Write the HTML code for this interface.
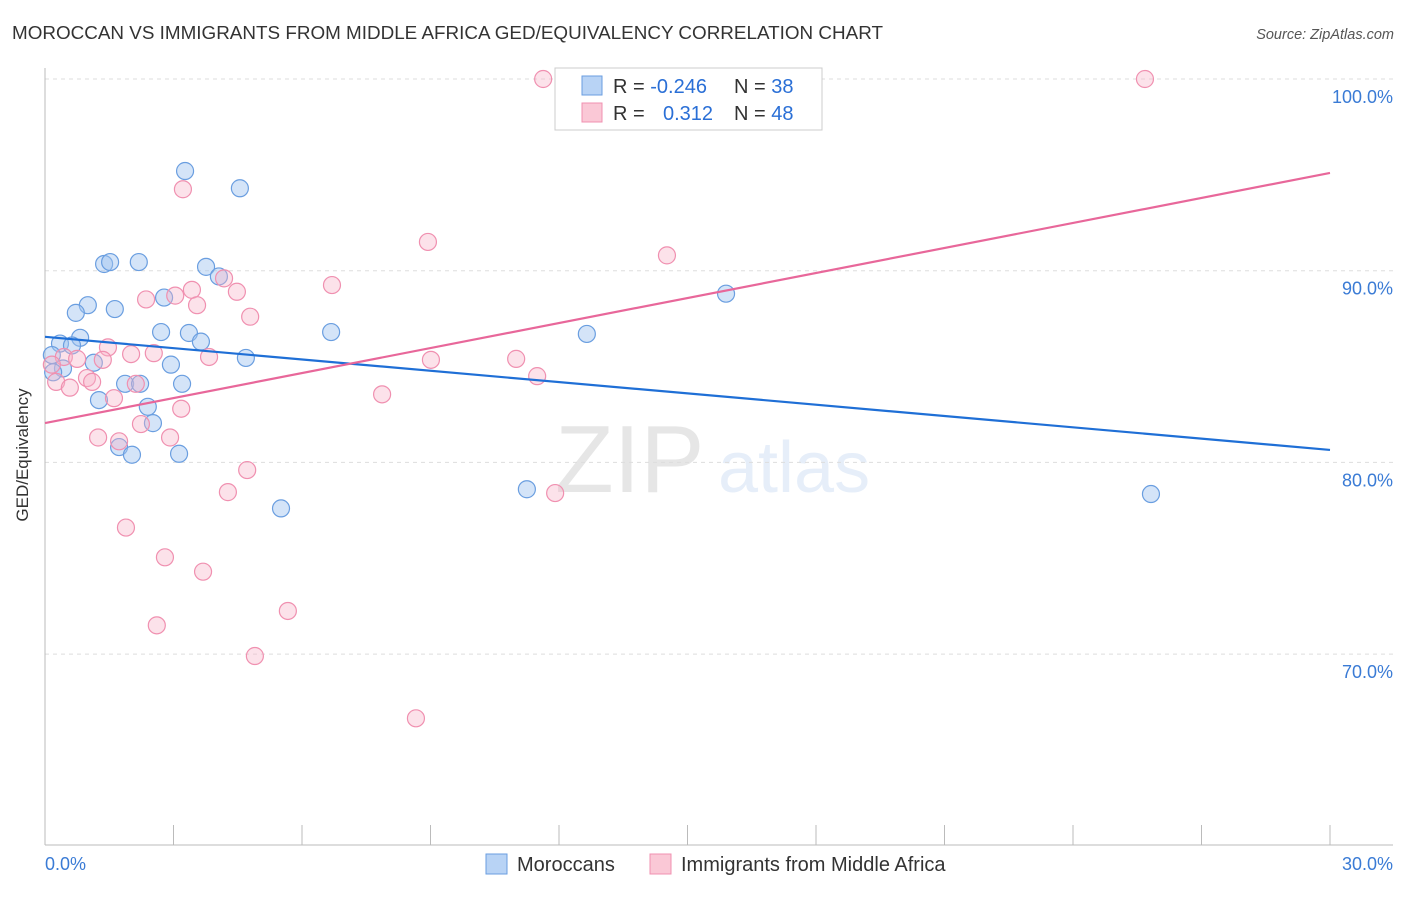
<!DOCTYPE html>
<html><head><meta charset="utf-8"><style>
body{margin:0;background:#fff;font-family:"Liberation Sans",sans-serif;}
svg text{font-family:"Liberation Sans",sans-serif;}
</style></head><body>
<svg id="chart" width="1406" height="892" xmlns="http://www.w3.org/2000/svg">
<text x="12" y="39" font-size="18" fill="#333" textLength="871" lengthAdjust="spacingAndGlyphs">MOROCCAN VS IMMIGRANTS FROM MIDDLE AFRICA GED/EQUIVALENCY CORRELATION CHART</text>
<text x="1394" y="39" font-size="14.5" fill="#555" font-style="italic" text-anchor="end">Source: ZipAtlas.com</text>
<g opacity="0.18">
<text x="555" y="492" font-size="96" font-family="Liberation Serif" fill="#777">ZIP</text>
<text x="718" y="492" font-size="72" fill="#7aa6e0">atlas</text>
</g>
<g id="grid"></g>
<g id="axes"></g>
<g id="points"></g>
<g id="trends"></g>
<text x="28" y="455" font-size="17" fill="#333" text-anchor="middle" transform="rotate(-90 28 455)">GED/Equivalency</text>
<g>
<rect x="555" y="68" width="267" height="62" fill="#fff" stroke="#ccc"/>
<rect x="582" y="76" width="20" height="19" fill="#b8d3f5" stroke="#6a9ee0"/>
<rect x="582" y="103" width="20" height="19" fill="#fac8d6" stroke="#f090b0"/>
<text x="613" y="93" font-size="20" fill="#333">R = <tspan fill="#2a6fd6">-0.246</tspan></text>
<text x="734" y="93" font-size="20" fill="#333">N = <tspan fill="#2a6fd6">38</tspan></text>
<text x="613" y="120" font-size="20" fill="#333">R = <tspan fill="#2a6fd6" x="663">0.312</tspan></text>
<text x="734" y="120" font-size="20" fill="#333">N = <tspan fill="#2a6fd6">48</tspan></text>
</g>
<g>
<rect x="486" y="854" width="21" height="20" fill="#b8d3f5" stroke="#6a9ee0"/>
<text x="517" y="871" font-size="20" fill="#333">Moroccans</text>
<rect x="650" y="854" width="21" height="20" fill="#fac8d6" stroke="#f090b0"/>
<text x="681" y="871" font-size="20" fill="#333">Immigrants from Middle Africa</text>
</g>
</svg>
<script>
const xTicks=[0,3,6,9,12,15,18,21,24,27,30];
const yTicks=[70,80,90,100];
const yTickLabels=["70.0%","80.0%","90.0%","100.0%"];
const xEndLabels=["0.0%","30.0%"];
const blueX=[3.27,4.55,1.38,1.52,2.19,3.76,4.06,2.78,1.00,1.63,0.72,15.9,6.68,12.65,2.71,3.36,0.82,3.64,0.35,0.63,4.69,2.94,1.14,0.16,0.42,0.19,1.87,2.22,3.2,1.26,2.4,2.52,1.73,2.03,3.13,5.51,11.25,25.82];
const blueY=[95.2,94.3,90.35,90.45,90.45,90.2,89.7,88.6,88.2,88.0,87.8,88.8,86.8,86.7,86.8,86.75,86.5,86.3,86.2,86.1,85.45,85.1,85.2,85.6,84.9,84.7,84.1,84.1,84.1,83.25,82.9,82.05,80.8,80.4,80.45,77.6,78.6,78.35];
const pinkX=[11.63,25.68,3.22,8.94,14.52,4.18,6.7,3.43,4.48,3.04,2.36,3.55,4.79,1.47,2.01,2.54,3.83,9.01,11.0,0.44,0.75,1.35,0.16,11.49,0.98,1.1,0.26,0.58,2.12,1.61,7.87,3.18,2.24,1.24,2.92,1.73,4.72,4.27,11.91,1.89,2.8,3.69,5.67,2.61,4.9,8.66];
const pinkY=[100,100,94.25,91.5,90.8,89.6,89.25,89.0,88.9,88.7,88.5,88.2,87.6,86.0,85.65,85.7,85.5,85.35,85.4,85.5,85.4,85.35,85.1,84.5,84.4,84.2,84.2,83.9,84.1,83.35,83.55,82.8,82.0,81.3,81.3,81.1,79.6,78.45,78.4,76.6,75.05,74.3,72.25,71.5,69.9,66.65];
const blueTrend=[86.55,80.65];
const pinkTrend=[82.05,95.1];
const NS="http://www.w3.org/2000/svg";
const X=v=>45+v/30*1285;
const Y=v=>79+(100-v)*19.17;
function mk(tag,attrs,parent){const e=document.createElementNS(NS,tag);for(const k in attrs)e.setAttribute(k,attrs[k]);parent.appendChild(e);return e;}
const grid=document.getElementById('grid'),axes=document.getElementById('axes'),pts=document.getElementById('points'),tr=document.getElementById('trends');
yTicks.forEach((t,i)=>{
 const l=mk('line',{x1:45,x2:1393,y1:Y(t),y2:Y(t),stroke:'#ddd','stroke-dasharray':'4 4'},grid);
 
 
 const tx=mk('text',{x:1393,y:Y(t)+24,'font-size':18,fill:'#3a7bd5','text-anchor':'end'},axes);
 tx.textContent=yTickLabels[i];
 
 
});
mk('line',{x1:45,x2:45,y1:68,y2:845,stroke:'#bbb'},axes);
mk('line',{x1:45,x2:1393,y1:845,y2:845,stroke:'#bbb'},axes);
xTicks.forEach(t=>{
 const l=mk('line',{x1:X(t),x2:X(t),y1:825,y2:845,stroke:'#bbb'},axes);
 
 
});
[[0,'start',45],[30,'end',1393]].forEach((a,i)=>{
 const tx=mk('text',{x:a[2],y:870,'font-size':18,fill:'#3a7bd5','text-anchor':a[1]},axes);
 tx.textContent=xEndLabels[i];
 
 
});
function draw(xs,ys,fill,stroke,name){
 xs.forEach((x,i)=>{
  const c=mk('circle',{cx:X(x),cy:Y(ys[i]),r:8.5,fill:fill,stroke:stroke,'stroke-width':1.2},pts);
  
  
 });
}
draw(blueX,blueY,'rgba(160,196,240,0.45)','#6a9ee0','point-moroccans');
draw(pinkX,pinkY,'rgba(248,180,200,0.38)','#f090b0','point-middle-africa');
const bl=mk('line',{x1:X(0),y1:Y(blueTrend[0]),x2:X(30),y2:Y(blueTrend[1]),stroke:'#1f6fd6','stroke-width':2.2},tr);


const pl=mk('line',{x1:X(0),y1:Y(pinkTrend[0]),x2:X(30),y2:Y(pinkTrend[1]),stroke:'#e8679a','stroke-width':2.2},tr);


</script>
</body></html>
